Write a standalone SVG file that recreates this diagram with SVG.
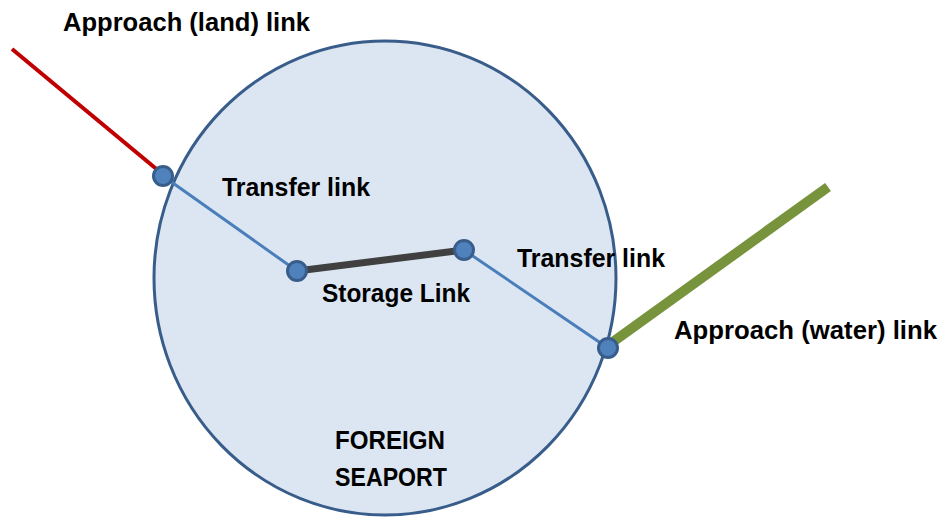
<svg xmlns="http://www.w3.org/2000/svg" width="942" height="517" viewBox="0 0 942 517">
<style>
.t{font-family:"Liberation Sans",Arial,sans-serif;font-weight:bold;font-size:26px;fill:#000}
.xfer{stroke:#4a7ebb;stroke-width:3;fill:none}
.node{fill:#4f81bd;stroke:#385d8a;stroke-width:3}
</style>
<rect width="942" height="517" fill="#fff"/>
<g id="seaport">
<ellipse cx="385" cy="278" rx="231" ry="237" fill="#dce6f2" stroke="#385d8a" stroke-width="3"/>
<text class="t" x="335" y="449" textLength="110" lengthAdjust="spacingAndGlyphs">FOREIGN</text>
<text class="t" x="335" y="486" textLength="112" lengthAdjust="spacingAndGlyphs">SEAPORT</text>
</g>
<g id="connectors">
<line x1="12" y1="49" x2="160" y2="172" stroke="#c00000" stroke-width="4"/>
<line class="xfer" x1="163" y1="176" x2="297" y2="271"/>
<line x1="297" y1="271" x2="464" y2="250" stroke="#404040" stroke-width="7"/>
<line class="xfer" x1="464" y1="250" x2="608" y2="348"/>
<line x1="828" y1="187" x2="610" y2="344" stroke="#77933c" stroke-width="10"/>
</g>
<g id="node-land"><circle class="node" cx="163" cy="176" r="9.5"/></g>
<g id="node-storage-a"><circle class="node" cx="297" cy="271" r="9.5"/></g>
<g id="node-storage-b"><circle class="node" cx="464" cy="250" r="9.5"/></g>
<g id="node-water"><circle class="node" cx="608" cy="348" r="9.5"/></g>
<g id="labels">
<text class="t" x="63" y="31" textLength="247" lengthAdjust="spacingAndGlyphs">Approach (land) link</text>
<text class="t" x="222" y="196" textLength="148" lengthAdjust="spacingAndGlyphs">Transfer link</text>
<text class="t" x="322" y="302" textLength="148" lengthAdjust="spacingAndGlyphs">Storage Link</text>
<text class="t" x="517" y="267" textLength="148" lengthAdjust="spacingAndGlyphs">Transfer link</text>
<text class="t" x="674" y="339" textLength="263" lengthAdjust="spacingAndGlyphs">Approach (water) link</text>
</g>
</svg>
